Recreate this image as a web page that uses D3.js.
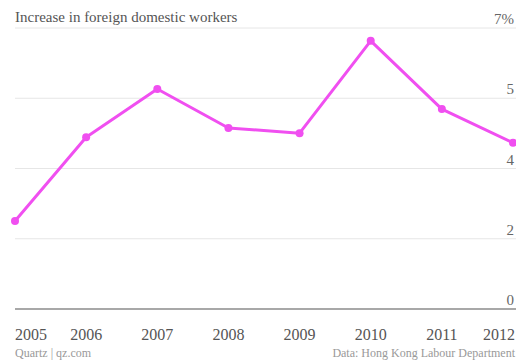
<!DOCTYPE html>
<html>
<head>
<meta charset="utf-8">
<script src="https://cdn.jsdelivr.net/npm/d3@7"></script>
<style>
  body { margin: 0; background: #fff; }
  svg text { font-family: "Liberation Serif", "DejaVu Serif", serif; }
</style>
</head>
<body>
<div id="chart"></div>
<script>
// Chart data
var years = ['2005', '2006', '2007', '2008', '2009', '2010', '2011', '2012'];
var increase = [2.19, 4.28, 5.48, 4.51, 4.38, 6.68, 4.98, 4.14];
var yTicks = [0, 1.75, 3.5, 5.25, 7];

var W = 516, H = 362;
var plot = {left: 15, right: 513, top: 28, bottom: 309};

var svg = d3.select('#chart').append('svg')
    .attr('width', W)
    .attr('height', H);

var x = d3.scalePoint()
    .domain(years)
    .range([plot.left, plot.right]);

var y = d3.scaleLinear()
    .domain([0, 7])
    .range([plot.bottom, plot.top]);

// gridlines
svg.selectAll('line.grid')
    .data(yTicks.slice(1))
    .enter()
    .append('line')
    .attr('class', 'grid')
    .attr('x1', plot.left)
    .attr('x2', W)
    .attr('y1', function(d){ return y(d); })
    .attr('y2', function(d){ return y(d); })
    .attr('stroke', '#e6e6e6')
    .attr('stroke-width', 1);

// baseline
svg.append('line')
    .attr('x1', plot.left)
    .attr('x2', W)
    .attr('y1', y(0))
    .attr('y2', y(0))
    .attr('stroke', '#a8a8a8')
    .attr('stroke-width', 2);

// y labels, rounded like the original
svg.selectAll('text.ylab')
    .data(yTicks)
    .enter()
    .append('text')
    .attr('class', 'ylab')
    .attr('x', 514)
    .attr('y', function(d){ return y(d) - 4; })
    .attr('text-anchor', 'end')
    .attr('font-size', 15)
    .attr('fill', '#666')
    .text(function(d){ return d === 7 ? '7%' : Math.round(d); });

// x labels
svg.selectAll('text.xlab')
    .data(years)
    .enter()
    .append('text')
    .attr('class', 'xlab')
    .attr('x', function(d, i){ return i === 0 ? plot.left : (i === years.length - 1 ? W - 1 : x(d)); })
    .attr('y', 340)
    .attr('text-anchor', function(d, i){ return i === 0 ? 'start' : (i === years.length - 1 ? 'end' : 'middle'); })
    .attr('font-size', 16)
    .attr('fill', '#555')
    .text(function(d){ return d; });

// line
var line = d3.line()
    .x(function(d, i){ return x(years[i]); })
    .y(function(d){ return y(d); });

svg.append('path')
    .datum(increase)
    .attr('d', line)
    .attr('fill', 'none')
    .attr('stroke', '#f04ff0')
    .attr('stroke-width', 3)
    .attr('stroke-linejoin', 'round');

svg.selectAll('circle.pt')
    .data(increase)
    .enter()
    .append('circle')
    .attr('class', 'pt')
    .attr('cx', function(d, i){ return x(years[i]); })
    .attr('cy', function(d){ return y(d); })
    .attr('r', 4)
    .attr('fill', '#f04ff0');

// title and footer
svg.append('text')
    .attr('x', plot.left)
    .attr('y', 22)
    .attr('font-size', 15)
    .attr('fill', '#555')
    .text('Increase in foreign domestic workers');

svg.append('text')
    .attr('x', plot.left)
    .attr('y', 357)
    .attr('font-size', 12)
    .attr('fill', '#999')
    .text('Quartz | qz.com');

svg.append('text')
    .attr('x', 515)
    .attr('y', 357)
    .attr('text-anchor', 'end')
    .attr('font-size', 12)
    .attr('fill', '#999')
    .text('Data: Hong Kong Labour Department');
</script>
</body>
</html>
